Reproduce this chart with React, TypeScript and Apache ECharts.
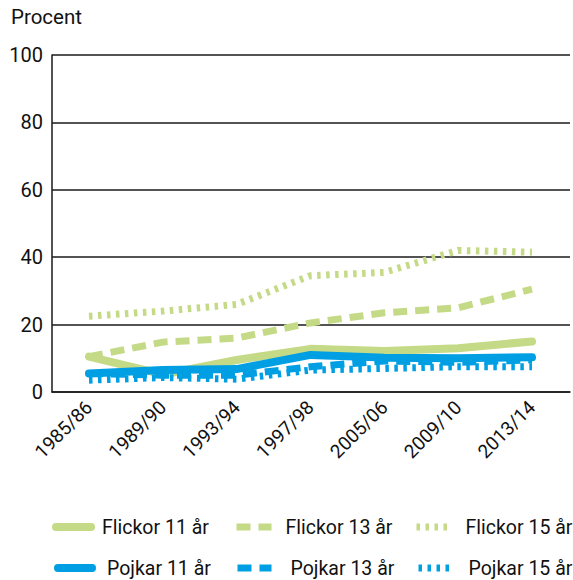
import React, { useEffect, useRef } from "react";
import * as echarts from "echarts";

const categories = ["1985/86", "1989/90", "1993/94", "1997/98", "2005/06", "2009/10", "2013/14"];
const flickor11 = [10.5, 5.2, 9.5, 12.8, 12.2, 13, 15];
const flickor13 = [10.5, 14.8, 16, 20.5, 23.5, 25, 30.5];
const flickor15 = [22.5, 24, 26, 34.5, 35.5, 42, 41.5];
const pojkar11 = [5.5, 6.5, 6.8, 11, 10.2, 10, 10.3];
const pojkar13 = [5.5, 5, 5, 7.5, 9.2, 8.8, 9.5];
const pojkar15 = [3.5, 4.3, 3.8, 6.5, 7, 7.5, 7.5];
const yTicks = [0, 20, 40, 60, 80, 100];

const GREEN = "#c5da87";
const BLUE = "#009fe3";
const FONT = "Roboto";

type Kind = "solid" | "dashed" | "dotted";
const styleFor = (color: string, kind: Kind) =>
  kind === "solid"
    ? { color, width: 8, type: "solid", cap: "round", join: "round" }
    : kind === "dashed"
    ? { color, width: 7, type: [14, 8], cap: "butt" }
    : { color, width: 7, type: [3.5, 5.5], cap: "butt" };

export default function App() {
  const ref = useRef<HTMLDivElement>(null);
  useEffect(() => {
    if (!ref.current) return;
    const chart = echarts.init(ref.current, undefined, { renderer: "svg" });
    const mk = (name: string, data: number[], color: string, kind: Kind) => ({
      name,
      type: "line",
      xAxisIndex: 1,
      yAxisIndex: 1,
      data,
      symbol: "none",
      silent: true,
      itemStyle: { color },
      lineStyle: styleFor(color, kind),
    });
    const legendBase = (
      name: string,
      color: string,
      kind: Kind,
      left: number,
      top: number,
      width: number,
      pad: number
    ) => ({
      data: [name],
      left,
      top,
      orient: "horizontal",
      itemWidth: width,
      itemHeight: 14,
      padding: 0,
      selectedMode: false,
      itemStyle: { opacity: 0, borderWidth: 0 },
      lineStyle: styleFor(color, kind),
      textStyle: { fontFamily: FONT, fontSize: 19.5, color: "#111", padding: [0, 0, 0, pad], lineHeight: 20 },
    });
    chart.setOption({
      animation: false,
      backgroundColor: "#fff",
      textStyle: { fontFamily: FONT },
      title: {
        text: "Procent",
        left: 11,
        top: 6,
        padding: 0,
        textStyle: { fontFamily: FONT, fontSize: 20.5, fontWeight: "normal", color: "#111" },
      },
      grid: [
        { left: 52, right: 3, top: 55, bottom: 188 },
        { left: 89, right: 41, top: 55, bottom: 188 },
      ],
      xAxis: [
        {
          gridIndex: 0,
          type: "category",
          data: categories,
          axisLine: { show: true, lineStyle: { color: "#1a1a1a", width: 1.5 } },
          axisTick: { show: false },
          axisLabel: { show: false },
          splitLine: { show: false },
        },
        {
          gridIndex: 1,
          type: "category",
          data: categories,
          boundaryGap: false,
          axisLine: { show: false },
          axisTick: { show: false },
          axisLabel: {
            rotate: 45,
            margin: 12,
            interval: 0,
            fontFamily: FONT,
            fontSize: 19,
            color: "#111",
          },
          splitLine: { show: false },
        },
      ],
      yAxis: [
        {
          gridIndex: 0,
          type: "value",
          min: yTicks[0],
          max: yTicks[yTicks.length - 1],
          interval: 20,
          axisLine: { show: true, lineStyle: { color: "#1a1a1a", width: 1.5 } },
          axisTick: { show: false },
          axisLabel: { margin: 9, fontFamily: FONT, fontSize: 20, color: "#111" },
          splitLine: { show: true, lineStyle: { color: "#1a1a1a", width: 1.5 } },
        },
        {
          gridIndex: 1,
          type: "value",
          min: yTicks[0],
          max: yTicks[yTicks.length - 1],
          interval: 20,
          show: false,
          splitLine: { show: false },
        },
      ],
      legend: [
        legendBase("Flickor 11 år", GREEN, "solid", 52, 517, 35, 6),
        legendBase("Flickor 13 år", GREEN, "dashed", 233, 517, 35, 9),
        legendBase("Flickor 15 år", GREEN, "dotted", 413, 517, 35, 9),
        legendBase("Pojkar 11 år", BLUE, "solid", 54, 558, 34, 10),
        legendBase("Pojkar 13 år", BLUE, "dashed", 234, 558, 34, 14),
        legendBase("Pojkar 15 år", BLUE, "dotted", 415, 558, 35, 10),
      ],
      series: [
        mk("Flickor 11 år", flickor11, GREEN, "solid"),
        mk("Flickor 13 år", flickor13, GREEN, "dashed"),
        mk("Flickor 15 år", flickor15, GREEN, "dotted"),
        mk("Pojkar 11 år", pojkar11, BLUE, "solid"),
        mk("Pojkar 13 år", pojkar13, BLUE, "dashed"),
        mk("Pojkar 15 år", pojkar15, BLUE, "dotted"),
      ],
    });
    return () => chart.dispose();
  }, []);
  return <div ref={ref} style={{ width: 573, height: 580, position: "absolute", left: 0, top: 0 }} />;
}
